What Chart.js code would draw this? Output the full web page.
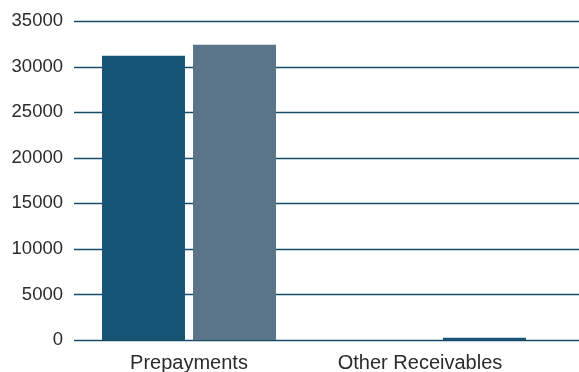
<!DOCTYPE html>
<html>
<head>
<meta charset="utf-8">
<script src="https://cdn.jsdelivr.net/npm/chart.js@4.4.1/dist/chart.umd.min.js"></script>
<style>
  html, body { margin: 0; padding: 0; background: #ffffff; }
  #wrap { width: 579px; height: 372px; position: relative; }
</style>
</head>
<body>
<div id="wrap"><canvas id="chart"></canvas></div>
<script>
// Receivables breakdown, two reporting periods
const categories = ['Prepayments', 'Other Receivables'];
const periodA = [31200, 0];
const periodB = [32400, 250];
const yTicks = [0, 5000, 10000, 15000, 20000, 25000, 30000, 35000];

const DARK = '#175576';
const SLATE = '#5a7489';
const RULE = '#184c68';

// Horizontal rules run from just right of the tick labels to the canvas edge
const ruleLines = {
  id: 'ruleLines',
  beforeDatasetsDraw(chart) {
    const { ctx, scales: { y }, width } = chart;
    ctx.save();
    ctx.strokeStyle = RULE;
    ctx.lineWidth = 1.6;
    yTicks.forEach(v => {
      const py = Math.round(y.getPixelForValue(v)) + 0.5;
      ctx.beginPath();
      ctx.moveTo(74, py);
      ctx.lineTo(width, py);
      ctx.stroke();
    });
    ctx.restore();
  }
};

// The second category label sits a little left of its bar slot;
// the shift is applied only while the axis labels are drawn.
const labelShift = [0, -19];
const shiftLabels = {
  id: 'shiftLabels',
  beforeDraw(chart) {
    const x = chart.scales.x;
    const orig = x.getPixelForTick;
    x._origTickPixel = orig;
    x.getPixelForTick = function (i) { return orig.call(this, i) + (labelShift[i] || 0); };
    x._labelItems = null;
  },
  afterDraw(chart) {
    const x = chart.scales.x;
    if (x._origTickPixel) {
      x.getPixelForTick = x._origTickPixel;
      delete x._origTickPixel;
    }
  }
};

new Chart(document.getElementById('chart'), {
  type: 'bar',
  data: {
    labels: categories,
    datasets: [
      { label: 'Period A', data: periodA, backgroundColor: DARK,
        categoryPercentage: 0.728, barPercentage: 0.912 },
      { label: 'Period B', data: periodB, backgroundColor: [SLATE, DARK],
        categoryPercentage: 0.728, barPercentage: 0.912 }
    ]
  },
  options: {
    responsive: true,
    maintainAspectRatio: false,
    animation: false,
    layout: { padding: { top: 21, right: 15, bottom: 0, left: 0 } },
    plugins: { legend: { display: false }, tooltip: { enabled: false } },
    scales: {
      x: {
        grid: { display: false, drawTicks: false },
        border: { display: false },
        ticks: {
          color: '#2b2b2b',
          padding: 11,
          font: { family: 'Liberation Sans', size: 20 }
        },
        afterFit(scale) { scale.height = 32; }
      },
      y: {
        min: 0,
        max: 35000,
        afterBuildTicks(scale) { scale.ticks = yTicks.map(v => ({ value: v })); },
        grid: { display: false, drawTicks: false },
        border: { display: false },
        ticks: {
          color: '#2b2b2b',
          padding: 1,
          font: { family: 'Liberation Sans', size: 18.5 },
          callback: v => String(v)
        },
        afterFit(scale) { scale.width = 64; }
      }
    }
  },
  plugins: [ruleLines, shiftLabels]
});
</script>
</body>
</html>
